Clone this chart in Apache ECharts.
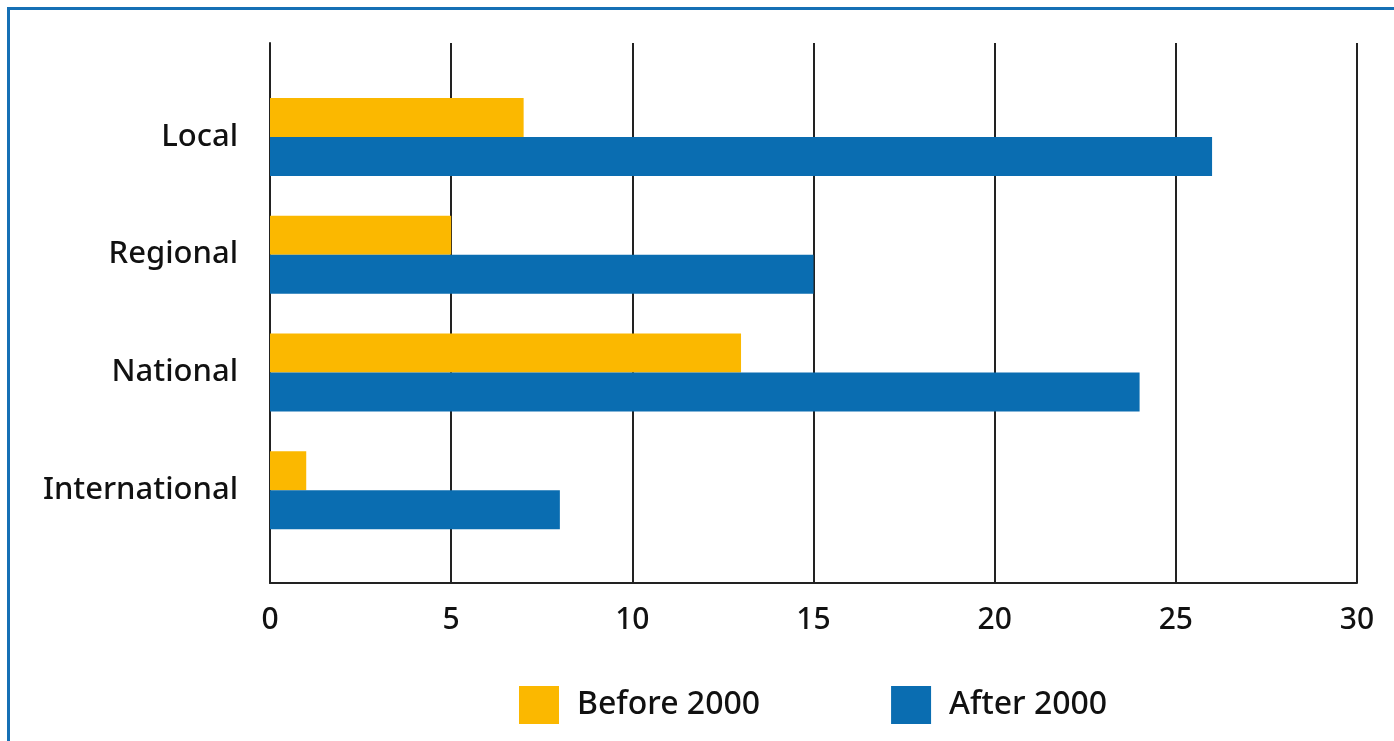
<!DOCTYPE html>
<html>
<head>
<meta charset="utf-8">
<script src="https://cdn.jsdelivr.net/npm/echarts@6/dist/echarts.min.js"></script>
<style>
html,body{margin:0;padding:0;background:#fff;}
#frame{position:absolute;left:7px;top:7px;width:1400px;height:800px;border-left:3px solid #1570b5;border-top:3px solid #1570b5;}
#chart{position:absolute;left:0;top:0;width:1394px;height:741px;}
</style>
</head>
<body>
<div id="frame"></div>
<div id="chart"></div>
<script>
const categories = ['Local', 'Regional', 'National', 'International'];
const before2000 = [7, 5, 13, 1];
const after2000 = [26, 15, 24, 8];
const seriesNames = ['Before 2000', 'After 2000'];
const xTicks = { min: 0, max: 30, interval: 5 };

const chart = echarts.init(document.getElementById('chart'));
const font = 'Noto Sans';
chart.setOption({
  animation: false,
  textStyle: { fontFamily: font },
  grid: [
    { left: 270, right: 37, top: 43, bottom: 158 },
    { left: 270, right: 37, top: 78, bottom: 192 }
  ],
  legend: {
    data: seriesNames,
    left: 514,
    top: 681,
    itemWidth: 40,
    itemHeight: 38,
    itemGap: 131,
    icon: 'rect',
    textStyle: { fontSize: 32, fontWeight: 500, color: '#111', fontFamily: font, padding: [0, 0, 0, 13] }
  },
  xAxis: [
    {
      gridIndex: 0, type: 'value', min: xTicks.min, max: xTicks.max, interval: xTicks.interval,
      axisLine: { show: true, lineStyle: { color: '#222', width: 2 } },
      axisTick: { show: false },
      splitLine: { show: true, lineStyle: { color: '#222', width: 2 } },
      axisLabel: { fontSize: 30, fontWeight: 500, color: '#111', margin: 22, fontFamily: font }
    },
    {
      gridIndex: 1, type: 'value', min: xTicks.min, max: xTicks.max, interval: xTicks.interval,
      show: false
    }
  ],
  yAxis: [
    {
      gridIndex: 0, type: 'category', data: categories, inverse: true,
      axisLine: { show: true, lineStyle: { color: '#222', width: 2 } },
      axisTick: { show: false }, axisLabel: { show: false }, splitLine: { show: false }
    },
    {
      gridIndex: 1, type: 'category', data: categories, inverse: true,
      axisLine: { show: false }, axisTick: { show: false },
      axisLabel: { fontSize: 31, fontWeight: 500, color: '#111', margin: 32, fontFamily: font }
    }
  ],
  series: [
    {
      name: seriesNames[0], type: 'bar', xAxisIndex: 1, yAxisIndex: 1,
      data: before2000, barWidth: 39, barGap: '0%',
      itemStyle: { color: '#FBB800' }
    },
    {
      name: seriesNames[1], type: 'bar', xAxisIndex: 1, yAxisIndex: 1,
      data: after2000, barWidth: 39, barGap: '0%',
      itemStyle: { color: '#0A6DB1' }
    }
  ]
});
</script>
</body>
</html>
